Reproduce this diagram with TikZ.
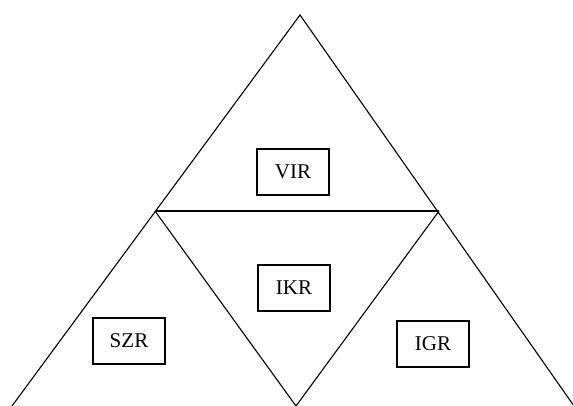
\documentclass[tikz,border=0pt]{standalone}
\usepackage{fontspec}
\setmainfont{Liberation Serif}
\begin{document}
\begin{tikzpicture}[x=1pt,y=-1pt,
  line/.style={line width=1.1pt, line join=miter},
  lbox/.style={draw, line width=1.1pt, minimum width=72pt, minimum height=46pt, inner sep=0pt, font=\fontsize{21}{24}\selectfont}]
\useasboundingbox (0,0) rectangle (573,406);
\coordinate (A) at (300,15);
\coordinate (BL) at (12,406);
\coordinate (BR) at (574,406);
\coordinate (ML) at (155,211);
\coordinate (MR) at (439,211);
\coordinate (MB) at (296,406);
\draw[line] (BL) -- (A) -- (BR);
\draw[line] (ML) -- (MR);
\draw[line] (ML) -- (MB) -- (MR);
\node[lbox] (vir) at (293,172) {VIR};
\node[lbox] (ikr) at (294,288) {IKR};
\node[lbox] (szr) at (129,341) {SZR};
\node[lbox] (igr) at (433,344) {IGR};
\end{tikzpicture}
\end{document}
